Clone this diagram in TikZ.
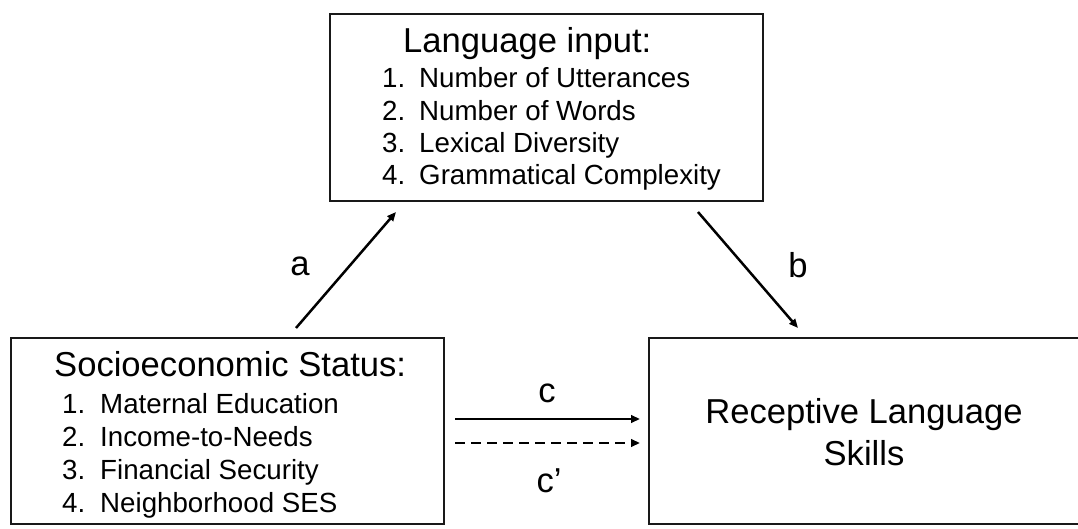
\documentclass[tikz,border=0pt]{standalone}
\usepackage{fontspec}
\setmainfont{Liberation Sans}
\usetikzlibrary{arrows.meta}
\begin{document}
\begin{tikzpicture}[x=1pt,y=-1pt,
  box/.style={draw=black!90, line width=2.8pt, rectangle, minimum width=433pt, inner sep=0pt, outer sep=0pt},
  head/.style={font=\fontsize{34.6}{40}\selectfont, inner sep=0pt, anchor=base west},
  num/.style={font=\fontsize{27.7}{32}\selectfont, inner sep=0pt, anchor=base west},
  item/.style={font=\fontsize{27.7}{32}\selectfont, inner sep=0pt, anchor=base west},
  ctext/.style={font=\fontsize{34.6}{40}\selectfont, inner sep=0pt, anchor=base},
  lbl/.style={font=\fontsize{34.6}{40}\selectfont, inner sep=0pt, anchor=base},
  conn/.style={line width=2.5pt, -{Triangle[length=9pt,width=7.5pt]}},
]
\useasboundingbox (0,0) rectangle (1078,529);
% boxes
\node[box, minimum height=187pt] (lang) at (546.5,107.5) {};
\node[box, minimum height=186pt] (ses) at (227.5,431) {};
\node[box, minimum height=186pt] (rec) at (865.5,431) {};
% language input box text
\node[head] (langT) at (403,53) {Language input:};
\node[num] (ln1) at (382,88) {1.};
\node[item] (li1) at (419,88) {Number of Utterances};
\node[num] (ln2) at (382,121) {2.};
\node[item] (li2) at (419,121) {Number of Words};
\node[num] (ln3) at (382,153) {3.};
\node[item] (li3) at (419,153) {Lexical Diversity};
\node[num] (ln4) at (382,185) {4.};
\node[item] (li4) at (419,185) {Grammatical Complexity};
% SES box text
\node[head] (sesT) at (54,376) {Socioeconomic Status:};
\node[num] (sn1) at (62,413) {1.};
\node[item] (si1) at (100,413) {Maternal Education};
\node[num] (sn2) at (62,446) {2.};
\node[item] (si2) at (100,446) {Income-to-Needs};
\node[num] (sn3) at (62,479) {3.};
\node[item] (si3) at (100,479) {Financial Security};
\node[num] (sn4) at (62,512) {4.};
\node[item] (si4) at (100,512) {Neighborhood SES};
% receptive box text
\node[ctext] (rec1) at (864,423) {Receptive Language};
\node[ctext] (rec2) at (864,465) {Skills};
% connector end points
\coordinate (aS) at (296,328);
\coordinate (aE) at (396,212);
\coordinate (bS) at (698,212);
\coordinate (bE) at (798,328);
\coordinate (cS) at (455,419);
\coordinate (cE) at (640,419);
\coordinate (dS) at (455,443);
\coordinate (dE) at (640,443);
\draw[conn] (aS) -- (aE);
\draw[conn] (bS) -- (bE);
\draw[conn] (cS) -- (cE);
\draw[conn, dash pattern=on 10pt off 6pt] (dS) -- (dE);
% labels
\node[lbl] (la) at (300,275) {a};
\node[lbl] (lb) at (798,277) {b};
\node[lbl] (lc) at (547,402) {c};
\node[lbl] (lcp) at (549,492) {c’};
\end{tikzpicture}
\end{document}
